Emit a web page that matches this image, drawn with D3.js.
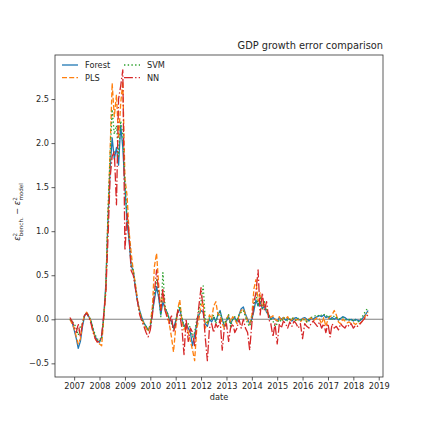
<!DOCTYPE html>
<html>
<head>
<meta charset="utf-8">
<script src="https://cdn.jsdelivr.net/npm/d3@7"></script>
<style>
  body { margin: 0; background: #fff; }
  svg text { font-family: "DejaVu Sans", sans-serif; fill: #262626; }
</style>
</head>
<body>
<div id="container"></div>
<script>
// monthly points, Nov 2006 .. Aug 2018
const startMonth = "2006-11-01";

const forest = [0.00,-0.03,-0.12,-0.22,-0.33,-0.25,-0.08,0.04,0.07,0.03,-0.02,-0.12,-0.20,-0.24,-0.26,-0.20,0.02,0.40,1.10,1.70,
  2.06,1.82,1.95,1.75,2.20,1.95,1.50,1.10,0.90,0.60,0.56,0.35,0.20,0.10,0.02,-0.04,-0.08,-0.12,-0.08,0.08,
  0.22,0.37,0.25,0.05,0.20,0.12,0.08,0.00,-0.02,-0.10,-0.02,0.08,0.12,0.00,-0.08,-0.05,-0.10,-0.15,-0.30,-0.18,
  -0.05,0.05,0.10,0.08,-0.05,-0.08,0.00,-0.03,0.02,-0.02,0.05,0.10,0.00,-0.08,-0.02,0.03,-0.05,0.00,0.02,-0.03,
  0.05,0.12,0.14,0.06,0.00,-0.05,0.00,0.10,0.22,0.15,0.20,0.12,0.15,0.08,0.05,0.00,0.02,0.00,-0.02,0.02,
  0.00,0.02,-0.01,0.01,0.00,-0.02,0.01,0.02,0.00,-0.01,0.01,0.02,0.00,-0.02,0.01,0.00,0.02,0.03,0.04,0.03,
  0.05,0.02,0.03,0.00,0.02,0.00,0.02,-0.01,0.01,0.03,0.02,0.00,-0.01,0.00,-0.02,0.00,-0.01,-0.02,0.00,0.03,
  0.06,0.10];

const pls = [0.00,-0.05,-0.10,-0.20,-0.28,-0.22,-0.05,0.05,0.08,0.04,-0.03,-0.13,-0.22,-0.26,-0.28,-0.30,0.00,0.35,1.15,1.90,
  2.68,2.30,2.55,2.05,2.45,2.70,1.60,1.40,1.00,0.75,0.55,0.40,0.22,0.08,0.00,-0.05,-0.10,-0.14,-0.05,0.15,
  0.60,0.75,0.40,0.10,0.30,0.12,0.05,-0.05,-0.20,-0.37,-0.10,0.12,0.22,-0.02,-0.12,-0.05,-0.15,-0.25,-0.35,-0.47,
  -0.10,0.00,0.15,0.20,-0.10,-0.05,0.05,0.00,0.15,0.20,0.05,0.05,-0.05,-0.10,0.00,0.05,-0.03,0.03,0.00,-0.05,
  0.05,0.10,0.12,0.05,-0.02,-0.05,0.05,0.35,0.45,0.20,0.30,0.15,0.18,0.10,0.05,0.02,0.04,0.00,-0.02,0.03,
  -0.02,0.02,0.00,0.03,-0.02,0.00,0.02,-0.01,0.00,-0.03,0.00,0.02,-0.03,0.00,0.02,-0.02,0.00,0.02,0.00,-0.05,
  0.02,-0.08,0.00,0.03,0.05,0.10,0.05,-0.03,-0.05,0.00,-0.02,-0.04,-0.03,-0.05,-0.04,-0.06,-0.04,-0.05,-0.03,0.00,
  0.05,0.08];

const svm = [0.00,-0.02,-0.05,-0.10,-0.18,-0.08,-0.05,0.05,0.07,0.03,-0.02,-0.10,-0.18,-0.22,-0.25,-0.20,0.00,0.35,1.20,1.85,
  2.38,2.10,2.20,1.85,2.25,2.10,1.55,1.15,0.95,0.62,0.55,0.38,0.20,0.08,0.00,-0.05,-0.08,-0.12,-0.08,0.10,
  0.30,0.45,0.30,0.03,0.53,0.15,0.08,0.00,-0.05,-0.12,-0.03,0.10,0.15,0.02,-0.08,-0.10,-0.05,-0.10,-0.20,-0.15,
  0.00,0.10,0.20,0.38,0.00,-0.05,0.02,0.00,0.05,-0.05,0.05,0.08,0.00,-0.05,0.00,0.05,-0.08,0.00,0.03,-0.02,
  0.05,0.08,0.10,0.03,-0.05,-0.08,0.00,0.15,0.30,0.15,0.25,0.12,0.20,0.10,0.05,0.00,-0.02,-0.08,-0.05,0.00,
  -0.03,0.02,0.00,-0.02,0.00,0.02,0.00,-0.02,0.01,0.00,-0.02,0.00,-0.03,0.00,0.02,0.03,0.04,0.05,0.03,0.05,
  0.06,0.03,0.05,0.02,0.00,0.04,0.02,0.00,0.01,0.02,0.00,-0.01,0.00,-0.02,0.00,-0.01,-0.03,-0.02,0.02,0.06,
  0.10,0.13];

const nn = [0.02,-0.02,-0.08,-0.15,-0.05,-0.20,-0.05,0.05,0.07,0.02,-0.05,-0.15,-0.22,-0.26,-0.25,-0.18,0.05,0.30,0.90,1.60,
  1.85,1.90,1.30,2.50,2.65,2.83,0.78,1.20,0.95,0.55,0.50,0.35,0.20,0.05,-0.02,-0.08,-0.15,-0.20,-0.12,0.05,
  0.30,0.56,0.30,0.10,0.35,0.10,0.02,-0.05,0.05,-0.15,-0.05,0.10,0.05,-0.10,-0.40,0.00,-0.25,-0.10,-0.15,-0.30,
  -0.05,0.15,0.36,0.10,-0.20,-0.47,-0.10,-0.05,-0.15,-0.05,-0.10,0.00,-0.35,-0.10,-0.05,-0.25,-0.10,-0.05,-0.15,-0.10,
  0.00,-0.10,0.00,-0.10,-0.15,-0.35,-0.05,0.20,0.30,0.56,0.05,0.30,0.10,0.20,0.00,-0.05,-0.20,-0.05,-0.28,-0.05,
  -0.10,-0.02,-0.05,-0.10,-0.03,-0.08,-0.02,-0.05,-0.10,-0.05,-0.22,-0.05,-0.08,-0.10,-0.05,-0.02,-0.05,-0.08,-0.03,-0.10,
  -0.05,-0.15,-0.05,-0.20,-0.05,-0.10,-0.08,-0.12,-0.05,-0.08,-0.10,-0.06,-0.08,-0.05,-0.10,-0.07,-0.08,-0.06,-0.03,0.00,
  0.03,0.05];

const seriesNames = ["Forest", "PLS", "SVM", "NN"];
const seriesValues = [forest, pls, svm, nn];
const colors = ["#1f77b4", "#ff7f0e", "#2ca02c", "#d62728"];
const dashes = [null, "5,2.2", "1.4,2.3", "8.9,2.2,1.4,2.2"];

const yTicks = [-0.5, 0.0, 0.5, 1.0, 1.5, 2.0, 2.5];
const xTickYears = [2007, 2008, 2009, 2010, 2011, 2012, 2013, 2014, 2015, 2016, 2017, 2018, 2019];

const width = 425;
const height = 428;
const marginTop = 55;
const marginRight = 42;
const marginBottom = 51;
const marginLeft = 55;

const start = d3.timeParse("%Y-%m-%d")(startMonth);
const dates = forest.map((_, i) => d3.timeMonth.offset(start, i));

// matplotlib-like 5% padding on x
const [d0, d1] = d3.extent(dates);
const pad = (d1 - d0) * 0.05;
const x = d3.scaleTime()
    .domain([new Date(+d0 - pad), new Date(+d1 + pad)])
    .range([marginLeft, width - marginRight]);

const y = d3.scaleLinear()
    .domain([-0.655, 3.0])
    .range([height - marginBottom, marginTop]);

const svg = d3.create("svg")
    .attr("width", width)
    .attr("height", height);

svg.append("rect").attr("width", width).attr("height", height).attr("fill", "#fff");

// zero line
svg.append("line")
    .attr("x1", marginLeft).attr("x2", width - marginRight)
    .attr("y1", y(0)).attr("y2", y(0))
    .attr("stroke", "#808080")
    .attr("stroke-width", 1.1);

const line = d3.line()
    .x((d, i) => x(dates[i]))
    .y(d => y(d));

seriesValues.forEach((vals, k) => {
    svg.append("path")
        .datum(vals)
        .attr("fill", "none")
        .attr("stroke", colors[k])
        .attr("stroke-width", 1.3)
        .attr("stroke-dasharray", dashes[k])
        .attr("stroke-linejoin", "round")
        .attr("d", line);
});

// axes
const xAxis = svg.append("g")
    .attr("transform", `translate(0, ${height - marginBottom})`)
    .call(d3.axisBottom(x)
        .tickValues(xTickYears.map(yr => new Date(yr, 0, 1)))
        .tickFormat(d3.timeFormat("%Y"))
        .tickSize(3.5)
        .tickPadding(2.5));

const yAxis = svg.append("g")
    .attr("transform", `translate(${marginLeft}, 0)`)
    .call(d3.axisLeft(y)
        .tickValues(yTicks)
        .tickFormat(d => d3.format(".1f")(d).replace("-", "\u2212"))
        .tickSize(3.5)
        .tickPadding(2.5));

[xAxis, yAxis].forEach(g => {
    g.select(".domain").remove();
    g.selectAll(".tick line").attr("stroke", "#333").attr("stroke-width", 0.8);
    g.selectAll(".tick text").attr("font-size", 8.2).attr("fill", "#262626");
});

// frame
svg.append("rect")
    .attr("x", marginLeft).attr("y", marginTop)
    .attr("width", width - marginRight - marginLeft)
    .attr("height", height - marginBottom - marginTop)
    .attr("fill", "none")
    .attr("stroke", "#333")
    .attr("stroke-width", 0.8);

// title
svg.append("text")
    .attr("x", width - marginRight)
    .attr("y", marginTop - 6)
    .attr("text-anchor", "end")
    .attr("font-size", 9.8)
    .text("GDP growth error comparison");

// x label
svg.append("text")
    .attr("x", (marginLeft + width - marginRight) / 2)
    .attr("y", height - marginBottom + 23)
    .attr("text-anchor", "middle")
    .attr("font-size", 8.2)
    .text("date");

// y label (mathtext-ish)
const yl = svg.append("text")
    .attr("transform", `translate(20, ${(marginTop + height - marginBottom) / 2 - 4}) rotate(-90)`)
    .attr("text-anchor", "middle")
    .attr("font-size", 8.2);
yl.append("tspan").attr("font-style", "italic").text("\u03b5");
yl.append("tspan").attr("font-size", 5.6).attr("dy", -3).text("2");
yl.append("tspan").attr("font-size", 5.6).attr("dx", -3.4).attr("dy", 5.5).text("bench.");
yl.append("tspan").attr("dy", -2.5).text(" \u2212 ");
yl.append("tspan").attr("font-style", "italic").text("\u03b5");
yl.append("tspan").attr("font-size", 5.6).attr("dy", -3).text("2");
yl.append("tspan").attr("font-size", 5.6).attr("dx", -3.4).attr("dy", 5.5).text("model");

// legend
const legend = svg.append("g")
    .attr("transform", `translate(${marginLeft + 7}, ${marginTop + 10})`);
seriesNames.forEach((name, k) => {
    const col = k % 2 === 0 ? 0 : 1;
    const row = k < 2 ? k : k - 2;
    // matplotlib fills column-wise: Forest, PLS | SVM, NN
    const c = k < 2 ? 0 : 1;
    const r = k % 2;
    const g = legend.append("g")
        .attr("transform", `translate(${c * 62}, ${r * 12.7})`);
    g.append("line")
        .attr("x1", 0).attr("x2", 16)
        .attr("stroke", colors[k])
        .attr("stroke-width", 1.3)
        .attr("stroke-dasharray", dashes[k]);
    g.append("text")
        .attr("x", 23)
        .attr("y", 3)
        .attr("font-size", 8.2)
        .text(name);
});

document.getElementById("container").append(svg.node());
</script>
</body>
</html>
